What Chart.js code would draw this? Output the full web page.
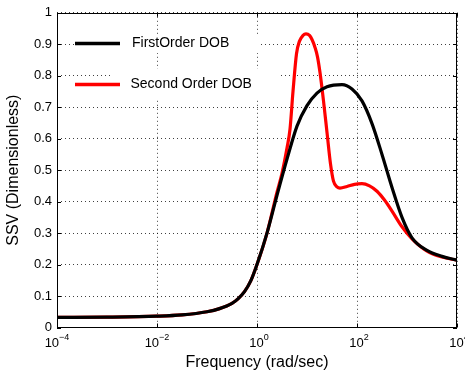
<!DOCTYPE html>
<html>
<head>
<meta charset="utf-8">
<script src="https://cdn.jsdelivr.net/npm/chart.js@4/dist/chart.umd.min.js"></script>
<style>
html,body{margin:0;padding:0;background:#fff;}
#wrap{width:465px;height:376px;position:relative;}
</style>
</head>
<body>
<div id="wrap"><canvas id="c" width="465" height="376"></canvas></div>
<script>
// Data (frequency given as log10 exponent)
const firstOrderExp = [-4,-3,-2,-1.5,-1,-0.75,-0.5,-0.375,-0.25,-0.125,0,0.2,0.4,0.6,0.8,1.0,1.2,1.4,1.7,1.9,2.1,2.3,2.5,2.7,2.9,3.1,3.4,3.7,4];
const firstOrderVal = [0.032,0.033,0.036,0.040,0.050,0.060,0.077,0.092,0.114,0.148,0.20,0.30,0.42,0.535,0.64,0.705,0.745,0.765,0.772,0.758,0.72,0.648,0.55,0.445,0.35,0.285,0.245,0.226,0.214];
const secondOrderExp = [-4,-3,-2,-1.5,-1,-0.75,-0.5,-0.375,-0.25,-0.125,0,0.2,0.4,0.5,0.6,0.66,0.72,0.79,0.85,0.92,0.98,1.05,1.1,1.16,1.21,1.26,1.33,1.4,1.47,1.53,1.6,1.66,1.8,1.95,2.1,2.25,2.4,2.55,2.7,2.9,3.1,3.4,3.7,4];
const secondOrderVal = [0.032,0.033,0.036,0.040,0.050,0.060,0.077,0.092,0.114,0.148,0.20,0.30,0.43,0.49,0.57,0.63,0.75,0.87,0.91,0.928,0.933,0.928,0.915,0.89,0.86,0.81,0.72,0.62,0.52,0.465,0.447,0.443,0.448,0.455,0.457,0.45,0.433,0.405,0.37,0.32,0.282,0.243,0.224,0.214];
const seriesLabels = ['FirstOrder DOB','Second Order DOB'];
const xTickExp = [-4,-2,0,2,4];
const yTicks = [0,0.1,0.2,0.3,0.4,0.5,0.6,0.7,0.8,0.9,1];

const FONT = '"Liberation Sans", Arial, Helvetica, sans-serif';
const toPts = (ex, vals) => ex.map((e,i)=>({x:Math.pow(10,e), y:vals[i]}));

const boxPlugin = {
  id:'box',
  beforeDatasetsDraw(chart){
    const ctx = chart.ctx;
    ctx.save();
    ctx.fillStyle='#fff';
    ctx.fillRect(74,35,184,18);
    ctx.fillRect(113,69,165,30);
    ctx.restore();
  },
  afterDatasetsDraw(chart){
    const ctx = chart.ctx, a = chart.chartArea, x = chart.scales.x, y = chart.scales.y;
    ctx.save();
    ctx.strokeStyle='#000'; ctx.lineWidth=1;
    ctx.strokeRect(Math.round(a.left)+0.5, Math.round(a.top)+0.5, Math.round(a.right-a.left)-1, Math.round(a.bottom-a.top)-1);
    const L=4;
    ctx.beginPath();
    xTickExp.forEach(e=>{
      const px=Math.round(x.getPixelForValue(Math.pow(10,e)))+0.5;
      ctx.moveTo(px,a.bottom); ctx.lineTo(px,a.bottom-L);
      ctx.moveTo(px,a.top); ctx.lineTo(px,a.top+L);
    });
    yTicks.forEach(v=>{
      const py=Math.round(y.getPixelForValue(v))+0.5;
      ctx.moveTo(a.left,py); ctx.lineTo(a.left+L,py);
      ctx.moveTo(a.right,py); ctx.lineTo(a.right-L,py);
    });
    ctx.stroke();
    ctx.fillStyle='#000';
    ctx.textBaseline='middle';
    ctx.textAlign='left';
    xTickExp.forEach(e=>{
      const px=x.getPixelForValue(Math.pow(10,e));
      const base='10', ex=(e<0?'\u2212':'')+Math.abs(e);
      ctx.font='13px '+FONT;
      const wb=ctx.measureText(base).width;
      ctx.font='9px '+FONT;
      const we=ctx.measureText(ex).width;
      const start=px-(wb+we)/2+(e<0?0:2);
      ctx.font='13px '+FONT;
      ctx.fillText(base,start,a.bottom+16);
      ctx.font='9px '+FONT;
      ctx.fillText(ex,start+wb,a.bottom+10);
    });
    const ds=chart.data.datasets;
    const rows=[43.5,84.5];
    ds.forEach((d,i)=>{
      ctx.strokeStyle=d.borderColor; ctx.lineWidth=3.5;
      ctx.beginPath(); ctx.moveTo(75,rows[i]); ctx.lineTo(120,rows[i]); ctx.stroke();
      ctx.fillStyle='#000'; ctx.font='14px '+FONT;
      ctx.fillText(d.label, i===0?132:130.5, rows[i]);
    });
    ctx.restore();
  }
};

new Chart(document.getElementById('c'), {
  type:'line',
  plugins:[boxPlugin],
  data:{
    datasets:[
      {label:seriesLabels[0], data:toPts(firstOrderExp,firstOrderVal), borderColor:'#000000', borderWidth:3.2, pointRadius:0, cubicInterpolationMode:'monotone', fill:false},
      {label:seriesLabels[1], data:toPts(secondOrderExp,secondOrderVal), borderColor:'#ff0000', borderWidth:3.2, pointRadius:0, cubicInterpolationMode:'monotone', fill:false}
    ]
  },
  options:{
    responsive:false, animation:false,
    layout:{padding:{top:12.5,right:8,left:0,bottom:0}},
    plugins:{legend:{display:false}, tooltip:{enabled:false}},
    scales:{
      x:{
        type:'logarithmic', min:1e-4, max:1e4,
        afterBuildTicks(s){ s.ticks = xTickExp.map(e=>({value:Math.pow(10,e)})); },
        afterFit(s){ s.height=48.5; },
        ticks:{display:false},
        grid:{color:'rgba(0,0,0,0.75)', lineWidth:1, drawTicks:false},
        border:{display:false, dash:[1,3]},
        title:{display:true, text:'Frequency (rad/sec)', color:'#000', font:{family:FONT, size:16}, padding:{top:4,bottom:4}}
      },
      y:{
        min:0, max:1,
        afterBuildTicks(s){ s.ticks = yTicks.map(v=>({value:v})); },
        afterFit(s){ s.width=57; },
        ticks:{color:'#000', font:{family:FONT,size:13}, padding:5, callback:(v)=>String(Math.round(v*10)/10)},
        grid:{color:'rgba(0,0,0,0.75)', lineWidth:1, drawTicks:false},
        border:{display:false, dash:[1,3]},
        title:{display:true, text:'SSV (Dimensionless)', color:'#000', font:{family:FONT, size:16}, padding:{top:4,bottom:4}}
      }
    }
  }
});
</script>
</body>
</html>
